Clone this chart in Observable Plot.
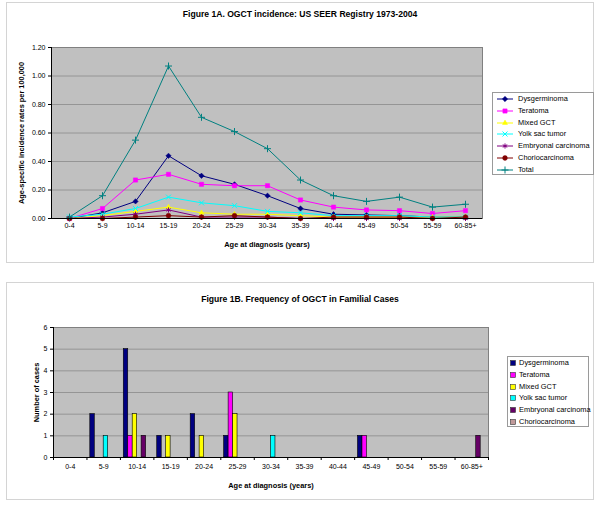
<!DOCTYPE html>
<html><head><meta charset="utf-8">
<script src="https://cdn.jsdelivr.net/npm/d3@7"></script>
<script src="https://cdn.jsdelivr.net/npm/@observablehq/plot@0.6"></script>
<style>
body{margin:0;background:#fff;font-family:"Liberation Sans",Arial,sans-serif;}
#wrap{position:relative;width:600px;height:506px;overflow:hidden;}
.panel{position:absolute;border:1px solid #d4d4d4;background:#fff;box-sizing:border-box;}
.title{position:absolute;left:0;width:600px;text-align:center;font-weight:bold;font-size:8.6px;color:#000;}
.legend{position:absolute;border:1px solid #9a9a9a;background:#fff;box-sizing:border-box;font-size:7.4px;color:#000;}
.legend .row{position:absolute;left:0;height:11px;line-height:11px;white-space:nowrap;}
.legend svg{vertical-align:middle;}
.chart{position:absolute;left:0;}
g[aria-label="y-axis label"] text, g[aria-label="x-axis label"] text{font-weight:bold;font-size:7.4px;}
</style></head>
<body><div id="wrap">
<div class="panel" style="left:6px;top:2px;width:588px;height:261px"></div>
<div class="panel" style="left:6px;top:282px;width:588px;height:218px"></div>
<div class="title" style="top:9px">Figure 1A. OGCT incidence: US SEER Registry 1973-2004</div>
<div class="title" style="top:294px">Figure 1B. Frequency of OGCT in Familial Cases</div>
</div>
<script>
// ---------- data ----------
const ages = ["0-4","5-9","10-14","15-19","20-24","25-29","30-34","35-39","40-44","45-49","50-54","55-59","60-85+"];
const seriesA = ["Dysgerminoma","Teratoma","Mixed GCT","Yolk sac tumor","Embryonal carcinoma","Choriocarcinoma","Total"];
const dysgerminomaA = [0.00,0.04,0.12,0.44,0.30,0.24,0.16,0.07,0.03,0.025,0.02,0.01,0.01];
const teratomaA     = [0.00,0.07,0.27,0.31,0.24,0.23,0.23,0.13,0.08,0.06,0.055,0.035,0.055];
const mixedGctA     = [0.00,0.02,0.05,0.08,0.04,0.03,0.03,0.02,0.01,0.01,0.01,0.01,0.01];
const yolkSacA      = [0.01,0.03,0.07,0.15,0.11,0.09,0.05,0.04,0.02,0.02,0.02,0.01,0.01];
const embryonalA    = [0.00,0.01,0.03,0.06,0.01,0.01,0.01,0.00,0.00,0.00,0.00,0.00,0.00];
const chorioA       = [0.00,0.00,0.01,0.02,0.01,0.02,0.01,0.00,0.01,0.01,0.01,0.00,0.01];
const totalA        = [0.01,0.16,0.55,1.07,0.71,0.61,0.49,0.27,0.16,0.12,0.15,0.08,0.10];
const yTicksA = [0,0.2,0.4,0.6,0.8,1.0,1.2];

const seriesB = ["Dysgerminoma","Teratoma","Mixed GCT","Yolk sac tumor","Embryonal carcinoma","Choriocarcinoma"];
const dysgerminomaB = [0,2,5,1,2,1,0,0,0,1,0,0,0];
const teratomaB     = [0,0,1,0,0,3,0,0,0,1,0,0,0];
const mixedGctB     = [0,0,2,1,1,2,0,0,0,0,0,0,0];
const yolkSacB      = [0,1,0,0,0,0,1,0,0,0,0,0,0];
const embryonalB    = [0,0,1,0,0,0,0,0,0,0,0,0,1];
const chorioB       = [0,0,0,0,0,0,0,0,0,0,0,0,0];
const yTicksB = [0,1,2,3,4,5,6];

// ---------- styles ----------
const colorsA = ["#000080","#ff00ff","#ffff00","#00ffff","#800080","#800000","#008080"];
const symbolsA = ["diamond2","square","triangle2","times","asterisk","circle","plus"];
const filledA = [true,true,true,false,false,true,false];
const colorsB = ["#000080","#ff00ff","#ffff00","#00ffff","#660066","#c09a9a"];

const valuesA = [dysgerminomaA,teratomaA,mixedGctA,yolkSacA,embryonalA,chorioA,totalA];
const valuesB = [dysgerminomaB,teratomaB,mixedGctB,yolkSacB,embryonalB,chorioB];
const wrap = document.getElementById("wrap");
const font = "Liberation Sans, Arial, sans-serif";

// ---------- chart A ----------
const rowsA = seriesA.flatMap((s,i)=>valuesA[i].map((v,j)=>({series:s, age:ages[j], value:v})));
const marksA = [
  Plot.frame({fill:"#c0c0c0", stroke:"#808080"}),
  Plot.gridY(yTicksA.slice(1,-1), {stroke:"#8a8a8a", strokeOpacity:1, strokeWidth:0.8}),
];
seriesA.forEach((s,i)=>{
  const d = rowsA.filter(r=>r.series===s);
  marksA.push(Plot.line(d,{x:"age",y:"value",stroke:colorsA[i],strokeWidth:1}));
  marksA.push(Plot.dot(d,{x:"age",y:"value",symbol:()=>symbolsA[i],r:2.4,
    fill:filledA[i]?colorsA[i]:"none",stroke:colorsA[i],strokeWidth:filledA[i]?0.5:1}));
});
marksA.push(
  Plot.frame({anchor:"left",stroke:"#000"}),
  Plot.ruleY([0],{stroke:"#000"}),
  Plot.axisY({ticks:yTicksA,tickFormat:d3.format(".2f"),tickSize:3,tickPadding:3,
    label:"Age-specific incidence rates per 100,000",labelAnchor:"center",labelArrow:"none",labelOffset:33}),
  Plot.axisX({tickSize:0,tickPadding:5,label:"Age at diagnosis (years)",labelAnchor:"center",labelArrow:"none",labelOffset:28})
);
const chartA = Plot.plot({
  width:490, height:262, marginTop:47, marginBottom:44, marginLeft:51, marginRight:8,
  style:{fontFamily:font,fontSize:"7px",background:"transparent",color:"#000",overflow:"visible"},
  x:{type:"point",domain:ages,padding:0.5},
  y:{domain:[0,1.2]},
  marks:marksA
});
chartA.classList.add("chart"); chartA.style.top="0px";
wrap.appendChild(chartA);

// ---------- chart B ----------
const nB = seriesB.length, groupUnits = nB + 1.5;
const rowsB = seriesB.flatMap((s,i)=>valuesB[i].map((v,j)=>({series:s, group:j, idx:i, count:v}))).filter(r=>r.count>0);
const chartB = Plot.plot({
  width:490, height:230, marginTop:57, marginBottom:43, marginLeft:53, marginRight:2,
  style:{fontFamily:font,fontSize:"7px",background:"transparent",color:"#000",overflow:"visible"},
  x:{domain:[0,ages.length]},
  y:{domain:[0,6]},
  color:{domain:seriesB,range:colorsB},
  marks:[
    Plot.frame({fill:"#c0c0c0", stroke:"#808080"}),
    Plot.gridY(yTicksB.slice(1,-1), {stroke:"#8a8a8a", strokeOpacity:1, strokeWidth:0.8}),
    Plot.rectY(rowsB,{x1:d=>d.group+(0.75+d.idx)/groupUnits, x2:d=>d.group+(1.75+d.idx)/groupUnits,
      y:"count", fill:"series", stroke:"#000", strokeWidth:0.6, inset:0}),
    Plot.frame({anchor:"left",stroke:"#000"}),
    Plot.ruleY([0],{stroke:"#000"}),
    Plot.axisY({ticks:yTicksB,tickFormat:d3.format("d"),tickSize:3,tickPadding:3,
      label:"Number of cases",labelAnchor:"center",labelArrow:"none",labelOffset:20}),
    Plot.axisX({ticks:d3.range(ages.length+1),tickSize:3,tickFormat:()=>"" ,label:null}),
    Plot.axisX({ticks:d3.range(ages.length).map(g=>g+0.5),tickFormat:t=>ages[Math.floor(t)],tickSize:0,tickPadding:7,
      label:"Age at diagnosis (years)",labelAnchor:"center",labelArrow:"none",labelOffset:30})
  ]
});
chartB.classList.add("chart"); chartB.style.top="270px";
wrap.appendChild(chartB);

// ---------- legends ----------
function legendBox(left, top, w, h){
  const div = document.createElement("div");
  div.className="legend";
  Object.assign(div.style,{left:left+"px",top:top+"px",width:w+"px",height:h+"px"});
  wrap.appendChild(div); return div;
}
const legA = legendBox(492,92,102,83);
seriesA.forEach((s,i)=>{
  const row = document.createElement("div"); row.className="row";
  row.style.top=(0+i*11.8)+"px"; row.style.left="3px";
  const svg = d3.create("svg").attr("width",20).attr("height",10);
  svg.append("line").attr("x1",1).attr("x2",17).attr("y1",5).attr("y2",5).attr("stroke",colorsA[i]).attr("stroke-width",1);
  const symMap={diamond2:d3.symbolDiamond2,square:d3.symbolSquare,triangle2:d3.symbolTriangle2,times:d3.symbolTimes,asterisk:d3.symbolAsterisk,circle:d3.symbolCircle,plus:d3.symbolPlus};
  svg.append("path").attr("transform","translate(9,5)").attr("d",d3.symbol(symMap[symbolsA[i]],18)())
    .attr("fill",filledA[i]?colorsA[i]:"none").attr("stroke",colorsA[i]).attr("stroke-width",filledA[i]?0.5:1);
  row.appendChild(svg.node());
  row.appendChild(document.createTextNode(" "+s));
  legA.appendChild(row);
});
const legB = legendBox(507,356,82,71);
seriesB.forEach((s,i)=>{
  const row = document.createElement("div"); row.className="row";
  row.style.top=(0+i*11.8)+"px"; row.style.left="2px";
  const svg = d3.create("svg").attr("width",7).attr("height",10);
  svg.append("rect").attr("x",0.5).attr("y",2.5).attr("width",5).attr("height",5).attr("fill",colorsB[i]).attr("stroke","#333").attr("stroke-width",0.6);
  row.appendChild(svg.node());
  row.appendChild(document.createTextNode(" "+s));
  legB.appendChild(row);
});
</script>
</body></html>
